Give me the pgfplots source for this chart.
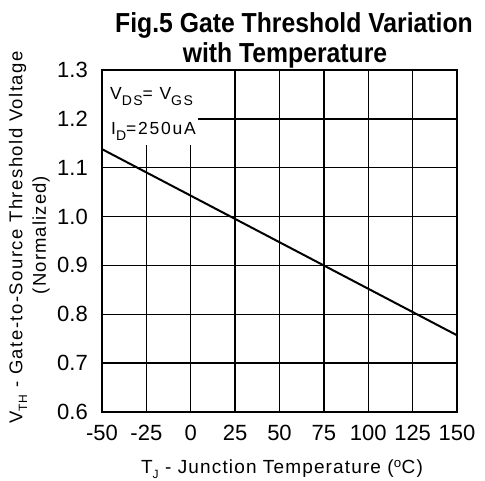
\documentclass[border=0pt]{standalone}
\usepackage{fontspec}
\setmainfont{Liberation Sans}
\newfontfamily\spacedA[LetterSpace=8]{Liberation Sans}
\newfontfamily\spacedB[LetterSpace=6]{Liberation Sans}
\newfontfamily\spacedC[LetterSpace=10]{Liberation Sans}
\usepackage{pgfplots}
\pgfplotsset{compat=1.18}
\begin{document}
\begin{tikzpicture}[x=1pt,y=1pt]
\useasboundingbox (0,0) rectangle (485,481);
\begin{axis}[
  at={(102pt,69pt)}, anchor=south west,
  scale only axis, width=355pt, height=342pt,
  xmin=-50, xmax=150, ymin=0.6, ymax=1.3,
  xtick={-50,-25,...,150},
  ytick={0.6,0.7,0.8,0.9,1.0,1.1,1.2,1.3},
  grid=major,
  major grid style={black, line width=1.4pt},
  axis line style={black, line width=2pt},
  major tick length=0pt,
  /pgf/number format/assume math mode=true,
  yticklabel style={/pgf/number format/.cd, fixed, fixed zerofill, precision=1,
     /tikz/.cd, anchor=east, inner sep=0pt, xshift=-14pt,
     font=\fontsize{22}{22}\selectfont},
  xticklabel style={anchor=north, inner sep=0pt, yshift=-13pt,
     font=\fontsize{22}{22}\selectfont},
]
\addplot[black, line width=2pt] coordinates {(-50,1.138) (150,0.757)};
\fill[white] ([xshift=1pt,yshift=-1pt]axis cs:-50,1.3) rectangle (axis cs:4,1.146);
\end{axis}
% legend text
\node[anchor=base west, inner sep=0pt] at (110,381)
  {\spacedC\fontsize{17.5}{17.5}\selectfont V\raisebox{-0.3em}{\fontsize{14}{14}\selectfont DS}= V\raisebox{-0.3em}{\fontsize{14}{14}\selectfont GS}};
\node[anchor=base west, inner sep=0pt] at (111,346)
  {\spacedC\fontsize{17.5}{17.5}\selectfont I\raisebox{-0.3em}{\fontsize{14}{14}\selectfont D}=250uA};
% title
\node[anchor=base, inner sep=0pt] at (294,448)
  {\scalebox{0.9}[1]{\fontsize{27.5}{28}\selectfont\bfseries Fig.5 Gate Threshold Variation}};
\node[anchor=base, inner sep=0pt] at (285,418)
  {\scalebox{0.9}[1]{\fontsize{27.5}{28}\selectfont\bfseries with Temperature}};
% y label
\node[rotate=90, inner sep=0pt] at (18,243.5)
  {\spacedA\fontsize{18.5}{19}\selectfont V\raisebox{-0.25em}{\fontsize{12}{12}\selectfont TH} - Gate-to-Source Threshold Voltage};
\node[rotate=90, inner sep=0pt] at (41,246)
  {\spacedB\fontsize{18.5}{19}\selectfont (Normalized)};
% x label
\node[anchor=base, inner sep=0pt] at (282,7)
  {\spacedB\fontsize{19}{19}\selectfont T\raisebox{-0.25em}{\fontsize{12}{12}\selectfont J} - Junction Temperature (\textsuperscript{o}C)};
\end{tikzpicture}
\end{document}
